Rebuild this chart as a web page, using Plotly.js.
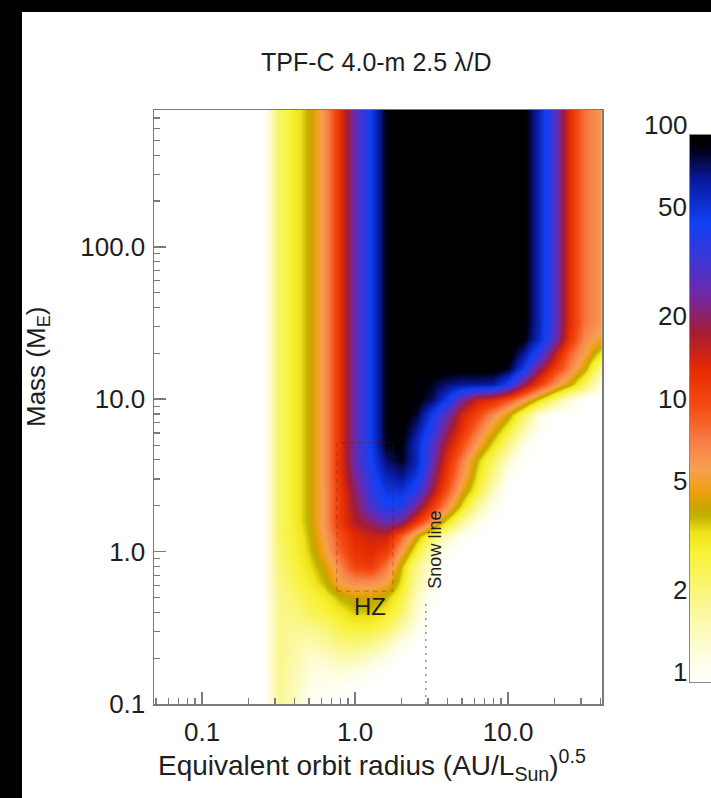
<!DOCTYPE html>
<html><head><meta charset="utf-8">
<script src="https://cdn.plot.ly/plotly-3.0.1.min.js"></script>
<style>
html,body{margin:0;padding:0;background:#000;width:711px;height:798px;overflow:hidden}
#plot{position:absolute;left:22px;top:12px;width:689px;height:786px;background:#fff}
</style></head><body><div id="plot"></div>
<script>
// ---- data ----
const radiusAU = [0.25,0.32,0.40,0.50,0.63,0.79,1.00,1.26,1.58,2.00,2.51,3.16,3.98,5.01,6.31,7.94,10.0,12.6,15.8,20.0,25.1,31.6,39.8];
const massME = [0.100,0.126,0.158,0.200,0.251,0.316,0.398,0.501,0.631,0.794,1.00,1.26,1.58,2.00,2.51,3.16,3.98,5.01,6.31,7.94,10.0,12.6,15.8,20.0,25.1,31.6,39.8,50.1,63.1,79.4,100,126,158,200,251,316,398,501,631,794];
// colour value for each mass row (bottom to top), across the radius columns
const detections = [
[1,1.9,1.5,1.1,1,1,1,1,1,1,1,1,1,1,1,1,1,1,1,1,1,1,1],
[1,1.9,1.6,1.2,1.1,1.1,1,1,1,1,1,1,1,1,1,1,1,1,1,1,1,1,1],
[1,2,1.6,1.3,1.2,1.3,1.2,1.1,1,1,1,1,1,1,1,1,1,1,1,1,1,1,1],
[1,2,1.7,1.4,1.4,1.6,1.6,1.4,1.2,1,1,1,1,1,1,1,1,1,1,1,1,1,1],
[1,2,1.8,1.6,1.8,2.1,2.2,2,1.6,1.2,1,1,1,1,1,1,1,1,1,1,1,1,1],
[1,2,1.9,2,2.2,2.7,3,3,2.5,1.7,1.2,1,1,1,1,1,1,1,1,1,1,1,1],
[1,2,2.1,2.5,2.8,3.3,3.8,3.8,3.3,2.3,1.4,1,1,1,1,1,1,1,1,1,1,1,1],
[1,2,2.3,2.8,3.2,4,4.5,4.5,4,2.8,1.5,1.1,1,1,1,1,1,1,1,1,1,1,1],
[1,2.1,2.6,3.2,4,6,7,7,6,3.5,1.8,1.2,1,1,1,1,1,1,1,1,1,1,1],
[1,2.2,2.8,3.5,4.5,7,11,12,8,4,2,1.3,1,1,1,1,1,1,1,1,1,1,1],
[1,2.3,3,3.8,5.5,9,13,14,12,6,3,1.6,1.1,1,1,1,1,1,1,1,1,1,1],
[1,2.4,3,4,6,10,14,16,16,9,4.5,2.5,1.5,1.1,1,1,1,1,1,1,1,1,1],
[1,2.4,3.2,4.2,6.5,12,18,22,28,24,13,7,3.5,1.8,1.2,1,1,1,1,1,1,1,1],
[1,2.4,3.2,4.2,6.5,12,20,32,45,42,25,13,7,3.5,1.8,1.2,1,1,1,1,1,1,1],
[1,2.4,3.2,4.2,6.5,12,22,38,52,55,40,20,10,5,3,1.5,1,1,1,1,1,1,1],
[1,2.4,3.2,4.2,6.5,13,25,42,62,72,52,25,12,6.5,3.5,2,1.1,1,1,1,1,1,1],
[1,2.4,3.2,4.2,6.5,13,28,45,75,88,62,30,14,7.5,4,2.4,1.4,1,1,1,1,1,1],
[1,2.4,3.2,4.2,6.5,13,28,48,88,92,60,33,17,10,6,3.5,2,1.2,1,1,1,1,1],
[1,2.4,3.2,4.2,6.5,13,28,48,90,98,70,42,22,13,8,5,3,1.7,1.1,1,1,1,1],
[1,2.4,3.2,4.2,6.5,13,28,48,90,100,85,50,28,15,11,7,4.5,2.5,1.3,1,1,1,1],
[1,2.4,3.2,4.2,6.5,13,28,48,90,100,95,80,50,25,16,14,10,6.5,3.8,2.2,1.3,1,1],
[1,2.4,3.2,4.2,6.5,13,28,48,90,100,98,88,75,70,70,68,45,22,12,7,4.5,2.5,1.3],
[1,2.4,3.2,4.2,6.5,13,28,48,90,100,100,100,100,100,100,100,88,50,22,12,7.5,4.5,2],
[1,2.4,3.2,4.2,6.5,13,28,48,90,100,100,100,100,100,100,100,100,70,40,18,9,6,3.5],
[1,2.4,3.2,4.2,6.5,13,28,48,90,100,100,100,100,100,100,100,100,95,60,30,13,7,5.5],
[1,2.4,3.2,4.2,6.5,13,28,48,90,100,100,100,100,100,100,100,100,100,62,32,14,8,6.5],
[1,2.4,3.2,4.2,6.5,13,28,48,90,100,100,100,100,100,100,100,100,100,62,32,14,8,6.5],
[1,2.4,3.2,4.2,6.5,13,28,48,90,100,100,100,100,100,100,100,100,100,62,32,14,8,6.5],
[1,2.4,3.2,4.2,6.5,13,28,48,90,100,100,100,100,100,100,100,100,100,62,32,14,8,6.5],
[1,2.4,3.2,4.2,6.5,13,28,48,90,100,100,100,100,100,100,100,100,100,62,32,14,8,6.5],
[1,2.4,3.2,4.2,6.5,13,28,48,90,100,100,100,100,100,100,100,100,100,62,32,14,8,6.5],
[1,2.4,3.2,4.2,6.5,13,28,48,90,100,100,100,100,100,100,100,100,100,62,32,14,8,6.5],
[1,2.4,3.2,4.2,6.5,13,28,48,90,100,100,100,100,100,100,100,100,100,62,32,14,8,6.5],
[1,2.4,3.2,4.2,6.5,13,28,48,90,100,100,100,100,100,100,100,100,100,62,32,14,8,6.5],
[1,2.4,3.2,4.2,6.5,13,28,48,90,100,100,100,100,100,100,100,100,100,62,32,14,8,6.5],
[1,2.4,3.2,4.2,6.5,13,28,48,90,100,100,100,100,100,100,100,100,100,62,32,14,8,6.5],
[1,2.4,3.2,4.2,6.5,13,28,48,90,100,100,100,100,100,100,100,100,100,62,32,14,8,6.5],
[1,2.4,3.2,4.2,6.5,13,28,48,90,100,100,100,100,100,100,100,100,100,62,32,14,8,6.5],
[1,2.4,3.2,4.2,6.5,13,28,48,90,100,100,100,100,100,100,100,100,100,62,32,14,8,6.5],
[1,2.4,3.2,4.2,6.5,13,28,48,90,100,100,100,100,100,100,100,100,100,62,32,14,8,6.5]
];
const xTickVals = [0.1, 1, 10];
const xTickText = ['0.1', '1.0', '10.0'];
const yTickVals = [0.1, 1, 10, 100];
const yTickText = ['0.1', '1.0', '10.0', '100.0'];
const cbarTicks = [1, 2, 5, 10, 20, 50, 100];
const cbarTickText = ['1', '2', '5', '10', '20', '50', '100'];
const cbarRange = [1, 100];
const snowLineAU = 2.9;
const snowLineMass = [0.1, 0.46];
const hzRadius = [0.76, 1.77];
const hzMass = [0.55, 5.2];

// ---- build ----
function edges(c) {
  const n = c.length, e = [c[0] / Math.sqrt(c[1] / c[0])];
  for (let i = 1; i < n; i++) e.push(Math.sqrt(c[i - 1] * c[i]));
  e.push(c[n - 1] * Math.sqrt(c[n - 1] / c[n - 2]));
  return e;
}
const zLog = detections.map(r => r.map(v => Math.log10(v)));
const cs = [
 [0.000,'#ffffff'],[0.044,'#fefee6'],[0.088,'#fcfbc0'],[0.150,'#faf78c'],
 [0.200,'#f9f45a'],[0.239,'#f8f235'],[0.275,'#f0e31a'],[0.302,'#c2b300'],
 [0.322,'#cca400'],[0.350,'#eea010'],[0.389,'#f6a050'],[0.4375,'#f88048'],
 [0.500,'#f54e14'],[0.573,'#e62a02'],[0.640,'#a41c35'],[0.707,'#7028a5'],
 [0.772,'#3d36d6'],[0.840,'#1040f5'],[0.920,'#08189c'],[0.977,'#00000f'],[1.000,'#000000']];
const zmin = Math.log10(cbarRange[0]), zmax = Math.log10(cbarRange[1]);

const W = 689, H = 786;
const fx = p => (p - 22) / W, fy = p => 1 - (p - 12) / H;
const FONT = 'Liberation Sans, Arial, Helvetica, sans-serif';
const TXT = '#1e1e1e';

const traces = [
 {type:'heatmap', x:edges(radiusAU), y:edges(massME), z:zLog, zmin:zmin, zmax:zmax,
  colorscale:cs, zsmooth:'best', showscale:false, xaxis:'x', yaxis:'y', hoverinfo:'skip'},
 {type:'scatter', mode:'lines', x:[snowLineAU, snowLineAU], y:snowLineMass,
  line:{color:'#9a9a9a', width:1.6, dash:'2px,5px'}, xaxis:'x', yaxis:'y', hoverinfo:'skip'},
 {type:'scatter', mode:'lines',
  x:[hzRadius[0],hzRadius[1],hzRadius[1],hzRadius[0],hzRadius[0]],
  y:[hzMass[0],hzMass[0],hzMass[1],hzMass[1],hzMass[0]],
  line:{color:'rgba(90,25,0,0.35)', width:1, dash:'5px,4px'}, xaxis:'x', yaxis:'y', hoverinfo:'skip'},
 {type:'heatmap', x:[0,1], y:[zmin,zmax], z:[[zmin,zmin],[zmax,zmax]], zmin:zmin, zmax:zmax,
  colorscale:cs, zsmooth:'best', showscale:false, xaxis:'x2', yaxis:'y2', hoverinfo:'skip'}
];

const axCommon = {
  showgrid:false, zeroline:false, showline:true, linecolor:'#7a7a7a', linewidth:1.5, mirror:true,
  ticks:'inside', ticklen:12, tickwidth:1.5, tickcolor:'#7a7a7a',
  tickfont:{family:FONT, size:26, color:TXT},
  minor:{ticks:'inside', ticklen:6, tickwidth:1.2, tickcolor:'#7a7a7a', dtick:'D1', showgrid:false}
};

const annotations = [
  {xref:'paper', yref:'paper', x:fx(376), y:fy(62), xanchor:'center', yanchor:'middle', showarrow:false,
   text:'TPF-C 4.0-m 2.5 \u03bb/D', font:{family:FONT, size:25, color:TXT}},
  {xref:'paper', yref:'paper', x:fx(372), y:fy(765), xanchor:'center', yanchor:'middle', showarrow:false,
   text:'Equivalent orbit radius (AU/L<sub>Sun</sub>)<sup>0.5</sup>', font:{family:FONT, size:28, color:TXT}},
  {xref:'paper', yref:'paper', x:fx(38), y:fy(367), xanchor:'center', yanchor:'middle', showarrow:false,
   textangle:-90, text:'Mass (M<sub>E</sub>)', font:{family:FONT, size:26, color:TXT}},
  {xref:'x', yref:'y', x:Math.log10(1.25), y:Math.log10(0.436), showarrow:false,
   text:'HZ', font:{family:FONT, size:24, color:TXT}},
  {xref:'x', yref:'y', x:Math.log10(3.33), y:Math.log10(1.03), showarrow:false, textangle:-90,
   text:'Snow line', font:{family:FONT, size:18, color:TXT}}
];
cbarTicks.forEach((v, i) => annotations.push({
  xref:'paper', yref:'y2', x:fx(689), y:Math.log10(v), xanchor:'right', yanchor:'middle', yshift:10,
  showarrow:false, text:cbarTickText[i], font:{family:FONT, size:26, color:TXT}
}));

const layout = {
  width:W, height:H, margin:{l:0,r:0,t:0,b:0},
  paper_bgcolor:'#ffffff', plot_bgcolor:'#ffffff', showlegend:false,
  xaxis: Object.assign({}, axCommon, {type:'log', domain:[fx(154), fx(602)],
    range:[-1.314, 1.614], tickmode:'array', tickvals:xTickVals, ticktext:xTickText,
    ticklabelstandoff:4, anchor:'y'}),
  yaxis: Object.assign({}, axCommon, {type:'log', domain:[fy(704), fy(110)],
    range:[-1, 2.898], tickmode:'array', tickvals:yTickVals, ticktext:yTickText,
    ticklabelstandoff:2, anchor:'x'}),
  xaxis2:{domain:[fx(690), 1], range:[0,1], anchor:'y2', showticklabels:false, ticks:'',
    showgrid:false, zeroline:false, showline:true, linecolor:'#8a8a8a', linewidth:1, mirror:true},
  yaxis2:{domain:[fy(682), fy(135)], range:[zmin,zmax], anchor:'x2', side:'left',
    showticklabels:false, ticks:'',
    showgrid:false, zeroline:false, showline:true, linecolor:'#8a8a8a', linewidth:1, mirror:true},
  annotations:annotations
};

Plotly.newPlot('plot', traces, layout, {staticPlot:true, displayModeBar:false});
</script></body></html>
